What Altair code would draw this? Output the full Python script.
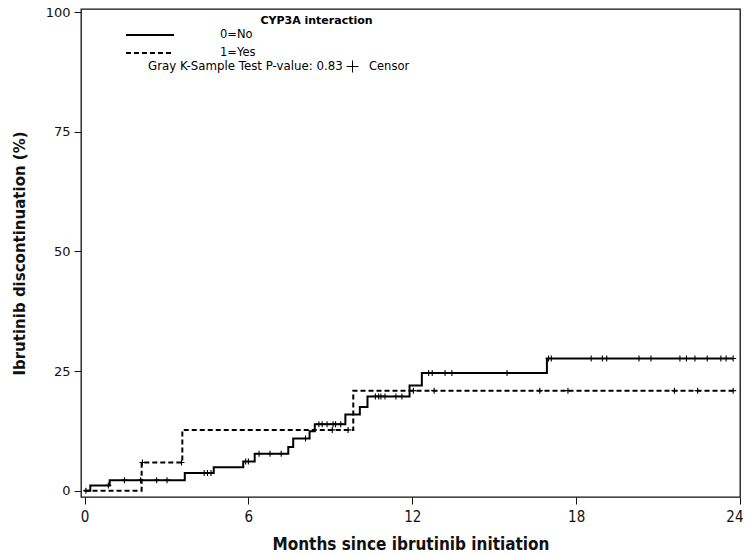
import altair as alt
import pandas as pd

# ---- data ----
group_names = ["0=No", "1=Yes"]
legend_title = "CYP3A interaction"
test_text = "Gray K-Sample Test P-value: 0.83"
censor_label = "Censor"
x_title = "Months since ibrutinib initiation"
y_title = "Ibrutinib discontinuation (%)"
x_ticks = [0, 6, 12, 18, 24]
y_ticks = [0, 25, 50, 75, 100]

# 0=No : step times (months) and cumulative incidence (%)
no_times = [0, 0.21, 0.92, 3.67, 4.73, 5.81, 6.23, 7.46, 7.64, 8.24, 8.43,
            9.55, 10.08, 10.36, 11.9, 12.35, 16.93]
no_vals = [0, 1.1, 2.2, 3.7, 4.9, 6.1, 7.7, 9.1, 10.9, 12.4, 13.9,
           15.9, 17.5, 19.7, 22.0, 24.6, 27.6]
no_end = 23.75
no_censor = [0.05, 0.87, 1.46, 2.05, 2.64, 3.02, 4.38, 4.5, 4.63, 5.9, 6.0,
             6.39, 6.79, 7.2, 8.09, 8.58, 8.7, 8.88, 9.1, 9.19, 9.38,
             10.65, 10.77, 10.85, 11.0, 11.4, 11.62, 12.6, 12.73, 13.2, 13.45,
             15.47, 16.99, 17.09, 18.55, 18.96, 19.12, 20.3, 20.74, 21.8,
             22.04, 22.35, 22.8, 23.3, 23.49, 23.75]

# 1=Yes
yes_times = [0, 2.09, 3.58, 9.84]
yes_vals = [0, 5.9, 12.7, 20.9]
yes_end = 23.75
yes_censor = [2.12, 3.55, 9.07, 9.65, 12.04, 12.8, 16.67, 17.7, 21.6,
              22.45, 23.75]


def step_rows(times, vals, end, name):
    rows = [{"t": t, "v": v, "g": name} for t, v in zip(times, vals)]
    rows.append({"t": end, "v": vals[-1], "g": name})
    return rows


def value_at(times, vals, t):
    out = vals[0]
    for tt, vv in zip(times, vals):
        if tt <= t:
            out = vv
    return out


line_df = pd.DataFrame(step_rows(no_times, no_vals, no_end, group_names[0])
                       + step_rows(yes_times, yes_vals, yes_end, group_names[1]))

cens_rows = [{"t": t, "v": value_at(no_times, no_vals, t), "k": censor_label}
             for t in no_censor]
cens_rows += [{"t": t, "v": value_at(yes_times, yes_vals, t), "k": censor_label}
              for t in yes_censor]
cens_df = pd.DataFrame(cens_rows)

cross_path = "M-1,0L1,0M0,-1L0,1"

x_enc = alt.X("t:Q",
              scale=alt.Scale(domain=[-0.13, 24], nice=False, zero=False),
              axis=alt.Axis(values=x_ticks, title=x_title, tickSize=7,
                            labelPadding=5, labelFont="DejaVu Sans Condensed",
                            labelFontSize=15, titleFont="DejaVu Sans Condensed",
                            titleFontSize=17, titleFontWeight="bold",
                            titlePadding=12, grid=False, domain=False,
                            labelFlush=1, labelFlushOffset=3))
y_enc = alt.Y("v:Q",
              scale=alt.Scale(domain=[-1.32, 100.63], nice=False, zero=False),
              axis=alt.Axis(values=y_ticks, title=y_title, tickSize=7,
                            labelPadding=4, labelFont="DejaVu Sans",
                            labelFontSize=13, titleFont="DejaVu Sans",
                            titleFontSize=15, titleFontWeight="bold",
                            titlePadding=18, grid=False, domain=False))

lines = alt.Chart(line_df).mark_line(
    interpolate="step-after", color="black", strokeWidth=2
).encode(
    x=x_enc,
    y=y_enc,
    strokeDash=alt.StrokeDash(
        "g:N",
        scale=alt.Scale(domain=group_names, range=[[1, 0], [5, 3]]),
        legend=alt.Legend(title=None, orient="none", legendX=63, legendY=20,
                          symbolType="M-5,0L5,0", symbolSize=92,
                          symbolStrokeColor="black", symbolStrokeWidth=2,
                          labelOffset=64, labelFont="DejaVu Sans",
                          labelFontSize=11.5, labelColor="black",
                          rowPadding=6, padding=0),
    ),
)

censors = alt.Chart(cens_df).mark_point(
    filled=False, color="black", strokeWidth=1.1, size=36, opacity=1
).encode(
    x=x_enc,
    y=y_enc,
    shape=alt.Shape(
        "k:N",
        scale=alt.Scale(domain=[censor_label], range=[cross_path]),
        legend=alt.Legend(title=None, orient="none", legendX=265, legendY=51,
                          symbolSize=144, symbolStrokeColor="black",
                          symbolStrokeWidth=1, symbolFillColor="transparent",
                          labelOffset=10, labelFont="DejaVu Sans",
                          labelFontSize=11.5, labelColor="black", padding=0),
    ),
)

title_text = alt.Chart(pd.DataFrame({"s": [legend_title]})).mark_text(
    align="center", baseline="middle", font="DejaVu Sans", fontSize=11,
    fontWeight="bold", color="black"
).encode(x=alt.value(235.5), y=alt.value(12), text="s:N")

gray_text = alt.Chart(pd.DataFrame({"s": [test_text]})).mark_text(
    align="left", baseline="middle", font="DejaVu Sans", fontSize=11.8,
    color="black"
).encode(x=alt.value(67), y=alt.value(57), text="s:N")

chart = alt.layer(lines, censors, title_text, gray_text).properties(
    width=659, height=488,
    autosize=alt.AutoSizeParams(type="none"),
    padding={"left": 73, "top": 1, "right": 3, "bottom": 58},
).configure_view(
    stroke="#111", strokeWidth=1.3
).configure_axis(
    tickColor="#111", labelColor="#111", titleColor="#111"
)

chart.save("out.html", embed_options={"renderer": "svg", "actions": False})
